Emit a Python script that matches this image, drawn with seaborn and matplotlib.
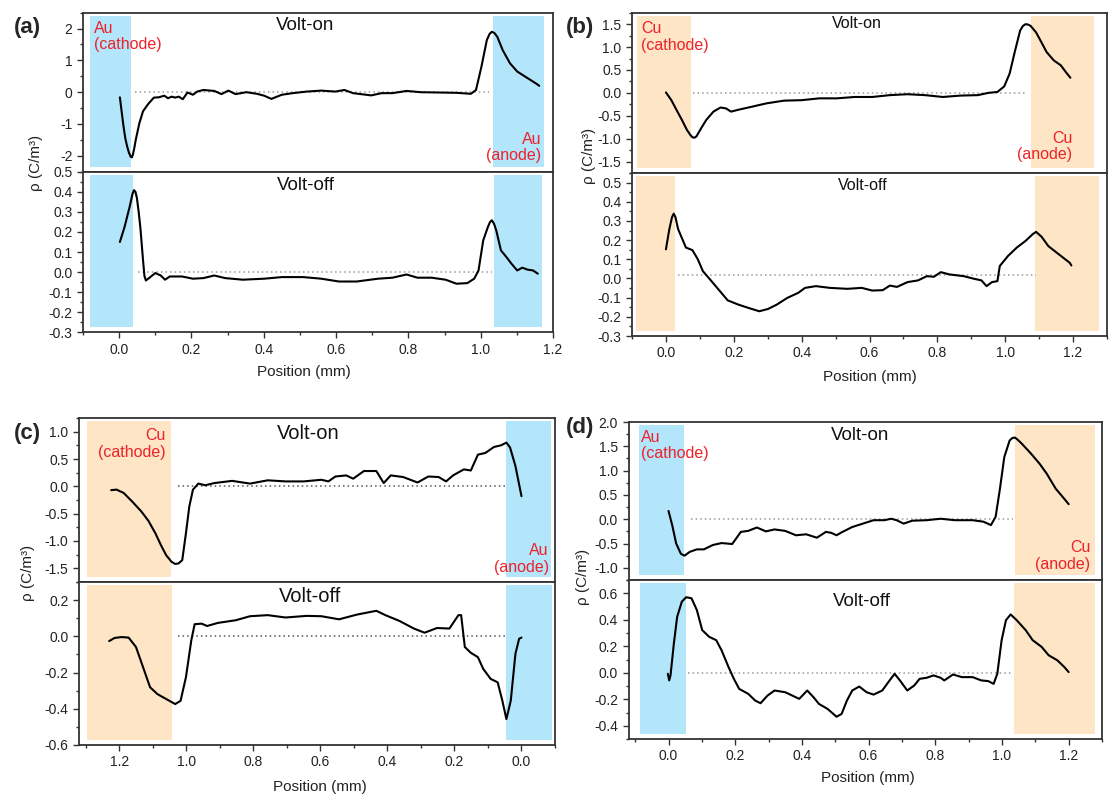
import numpy as np
import matplotlib.pyplot as plt
from matplotlib.ticker import AutoMinorLocator, FormatStrFormatter, MultipleLocator
import seaborn as sns
import pandas as pd

sns.set_style("ticks")
plt.rcParams['font.family'] = ['Liberation Sans', 'DejaVu Sans']
plt.rcParams['axes.unicode_minus'] = False

BLUE = '#b3e5fb'
PEACH = '#fde5c5'
RED = '#ee2229'

# ---------------- (a) Au / Au ----------------
a_on_x = [0.002, 0.007, 0.012, 0.017, 0.022, 0.027, 0.032, 0.035, 0.038, 0.042, 0.046, 0.056, 0.066,
          0.081, 0.096, 0.110, 0.125, 0.135,
          0.145, 0.155, 0.165, 0.176, 0.189, 0.204, 0.216, 0.233, 0.263, 0.283, 0.302, 0.322, 0.352,
          0.381, 0.401, 0.421, 0.450, 0.480, 0.519, 0.559, 0.598, 0.623, 0.647, 0.697, 0.726, 0.756,
          0.795, 0.834, 0.884, 0.933, 0.973, 0.987, 1.002, 1.017, 1.025, 1.031, 1.038, 1.046, 1.061,
          1.081, 1.101, 1.130, 1.155, 1.162]
a_on_y = [-0.16, -0.62, -1.07, -1.45, -1.70, -1.90, -2.03, -2.05, -1.96, -1.75, -1.49, -0.97, -0.60,
          -0.36, -0.17, -0.16, -0.11, -0.19,
          -0.14, -0.17, -0.14, -0.22, -0.01, -0.08, 0.02, 0.07, 0.04, -0.06, 0.05, -0.06, 0.00,
          -0.05, -0.11, -0.21, -0.08, -0.03, 0.02, 0.05, 0.02, 0.07, -0.03, -0.10, -0.03, -0.03,
          0.04, 0.00, -0.01, -0.02, -0.05, 0.07, 0.80, 1.64, 1.84, 1.90, 1.86, 1.74, 1.32,
          0.91, 0.65, 0.44, 0.26, 0.20]
a_off_x = [0.002, 0.015, 0.029, 0.037, 0.041, 0.045, 0.049, 0.054, 0.059, 0.066, 0.070, 0.074, 0.086,
           0.100, 0.115, 0.127, 0.140,
           0.174, 0.204, 0.233, 0.263, 0.293, 0.342, 0.401, 0.450, 0.509, 0.559, 0.608, 0.657, 0.716,
           0.756, 0.795, 0.825, 0.864, 0.903, 0.933, 0.963, 0.982, 0.994, 1.007, 1.020, 1.026, 1.031,
           1.037, 1.043, 1.056, 1.071, 1.085, 1.101, 1.115, 1.130, 1.145, 1.158]
a_off_y = [0.150, 0.225, 0.325, 0.390, 0.408, 0.400, 0.370, 0.300, 0.215, 0.060, -0.020, -0.042, -0.025,
           -0.005, -0.017, -0.038, -0.022,
           -0.022, -0.033, -0.030, -0.017, -0.030, -0.038, -0.033, -0.025, -0.025, -0.033, -0.047, -0.047, -0.033,
           -0.028, -0.012, -0.028, -0.028, -0.038, -0.058, -0.055, -0.033, 0.008, 0.158, 0.225, 0.250, 0.258,
           0.240, 0.208, 0.108, 0.075, 0.042, 0.008, 0.022, 0.012, 0.008, -0.008]

# ---------------- (b) Cu / Cu ----------------
b_on_x = [0.000, 0.016, 0.031, 0.047, 0.062, 0.072, 0.078, 0.084, 0.090, 0.104, 0.119, 0.140, 0.161,
          0.177, 0.192,
          0.213, 0.255, 0.296, 0.348, 0.400, 0.452, 0.504, 0.556, 0.608, 0.660, 0.712, 0.764, 0.816,
          0.868, 0.919, 0.951, 0.977, 0.997, 1.013, 1.029, 1.044, 1.052, 1.060, 1.068, 1.075, 1.091,
          1.107, 1.122, 1.143, 1.164, 1.179, 1.192]
b_on_y = [0.01, -0.16, -0.37, -0.59, -0.81, -0.92, -0.97, -0.98, -0.95, -0.77, -0.59, -0.41, -0.32,
          -0.34, -0.41,
          -0.37, -0.30, -0.23, -0.17, -0.16, -0.12, -0.12, -0.09, -0.09, -0.05, -0.03, -0.05, -0.09,
          -0.06, -0.05, 0.00, 0.02, 0.14, 0.42, 0.92, 1.36, 1.46, 1.50, 1.49, 1.46, 1.32,
          1.10, 0.89, 0.71, 0.60, 0.45, 0.33]
b_off_x = [0.000, 0.010, 0.018, 0.023, 0.028, 0.036, 0.059, 0.078, 0.094, 0.109, 0.130, 0.151, 0.182,
           0.213, 0.244,
           0.275, 0.301, 0.327, 0.358, 0.390, 0.410, 0.442, 0.483, 0.535, 0.577, 0.608, 0.639, 0.660,
           0.681, 0.712, 0.743, 0.769, 0.790, 0.810, 0.836, 0.878, 0.909, 0.930, 0.945, 0.961, 0.977,
           0.984, 1.008, 1.034, 1.060, 1.081, 1.091, 1.107, 1.127, 1.158, 1.190, 1.195]
b_off_y = [0.152, 0.257, 0.320, 0.338, 0.320, 0.257, 0.161, 0.148, 0.100, 0.038, -0.005, -0.049, -0.114,
           -0.136, -0.154,
           -0.171, -0.159, -0.136, -0.101, -0.075, -0.049, -0.040, -0.049, -0.054, -0.049, -0.063, -0.061, -0.037,
           -0.044, -0.019, -0.010, 0.012, 0.009, 0.033, 0.021, 0.012, -0.002, -0.010, -0.040, -0.019, -0.014,
           0.065, 0.117, 0.161, 0.196, 0.231, 0.243, 0.218, 0.169, 0.126, 0.082, 0.068]

# ---------------- (c) Cu / Au (reversed axis) ----------------
c_on_x = [1.224, 1.208, 1.187, 1.161, 1.134, 1.113, 1.092, 1.076, 1.060, 1.044, 1.033, 1.023, 1.012,
          1.001, 0.991, 0.980, 0.964, 0.943, 0.916, 0.863, 0.810, 0.757, 0.704, 0.650, 0.597, 0.576, 0.555,
          0.523, 0.502, 0.470, 0.433, 0.411, 0.390, 0.353, 0.310, 0.278, 0.247, 0.225, 0.204, 0.172,
          0.151, 0.130, 0.108, 0.082, 0.061, 0.045, 0.034, 0.018, 0.000]
c_on_y = [-0.07, -0.06, -0.12, -0.28, -0.46, -0.63, -0.86, -1.07, -1.26, -1.38, -1.42, -1.41, -1.35,
          -0.86, -0.37, -0.06, 0.05, 0.02, 0.06, 0.10, 0.05, 0.11, 0.09, 0.09, 0.12, 0.09, 0.18,
          0.20, 0.14, 0.28, 0.28, 0.06, 0.20, 0.17, 0.07, 0.18, 0.17, 0.09, 0.20, 0.31,
          0.29, 0.58, 0.61, 0.72, 0.75, 0.80, 0.71, 0.37, -0.18]
c_off_x = [1.230, 1.214, 1.193, 1.172, 1.150, 1.129, 1.108, 1.086, 1.060, 1.033, 1.017, 1.001, 0.985,
           0.975, 0.954, 0.938, 0.906, 0.852, 0.810, 0.757, 0.704, 0.640, 0.597, 0.544, 0.491, 0.433,
           0.406, 0.364, 0.321, 0.289, 0.252, 0.215, 0.188, 0.180, 0.169, 0.151, 0.130, 0.114, 0.092,
           0.071, 0.057, 0.045, 0.032, 0.018, 0.007, 0.000]
c_off_y = [-0.026, -0.009, -0.004, -0.007, -0.059, -0.170, -0.281, -0.319, -0.346, -0.374, -0.356, -0.226, -0.022,
           0.067, 0.070, 0.057, 0.074, 0.089, 0.111, 0.117, 0.104, 0.113, 0.111, 0.094, 0.120, 0.141,
           0.117, 0.085, 0.043, 0.020, 0.046, 0.043, 0.117, 0.117, -0.059, -0.091, -0.115, -0.180, -0.235,
           -0.254, -0.356, -0.457, -0.356, -0.096, -0.013, -0.007]

# ---------------- (d) Au / Cu ----------------
d_on_x = [0.000, 0.011, 0.023, 0.037, 0.048, 0.064, 0.085, 0.106, 0.133, 0.159, 0.191, 0.217, 0.239,
          0.265, 0.292, 0.318, 0.350, 0.382, 0.413, 0.445, 0.472, 0.488, 0.504, 0.519, 0.551, 0.583,
          0.615, 0.647, 0.668, 0.684, 0.705, 0.731, 0.774, 0.816, 0.859, 0.912, 0.944, 0.967, 0.981,
          0.994, 1.007, 1.023, 1.031, 1.039, 1.048, 1.060, 1.087, 1.113, 1.134, 1.161, 1.182, 1.200]
d_on_y = [0.17, -0.12, -0.50, -0.71, -0.75, -0.67, -0.62, -0.62, -0.53, -0.49, -0.51, -0.26, -0.24,
          -0.17, -0.25, -0.21, -0.24, -0.33, -0.31, -0.38, -0.26, -0.28, -0.33, -0.27, -0.16, -0.09,
          -0.02, -0.02, 0.01, -0.02, -0.09, -0.03, -0.02, 0.01, -0.02, -0.02, -0.05, -0.12, 0.05,
          0.63, 1.28, 1.62, 1.67, 1.68, 1.63, 1.55, 1.35, 1.14, 0.94, 0.63, 0.46, 0.31]
d_off_x = [-0.002, 0.002, 0.006, 0.016, 0.026, 0.040, 0.053, 0.069, 0.085, 0.101, 0.122, 0.143, 0.159,
           0.180, 0.196, 0.212, 0.239, 0.260, 0.276, 0.297, 0.318, 0.350, 0.371, 0.392, 0.416, 0.435,
           0.451, 0.477, 0.504, 0.519, 0.535, 0.551, 0.572, 0.594, 0.615, 0.641, 0.663, 0.678, 0.694,
           0.716, 0.737, 0.753, 0.774, 0.795, 0.816, 0.827, 0.853, 0.880, 0.912, 0.938, 0.959, 0.975,
           0.986, 0.999, 1.012, 1.026, 1.044, 1.071, 1.092, 1.119, 1.140, 1.166, 1.187, 1.200]
d_off_y = [-0.008, -0.058, -0.020, 0.220, 0.423, 0.537, 0.570, 0.562, 0.473, 0.322, 0.271, 0.246, 0.170,
           0.043, -0.046, -0.122, -0.159, -0.210, -0.230, -0.172, -0.134, -0.147, -0.172, -0.197, -0.134, -0.185,
           -0.235, -0.273, -0.332, -0.311, -0.210, -0.134, -0.104, -0.147, -0.165, -0.134, -0.058, -0.008, -0.058,
           -0.134, -0.096, -0.046, -0.038, -0.020, -0.038, -0.058, -0.013, -0.033, -0.033, -0.058, -0.063, -0.084,
           -0.008, 0.246, 0.397, 0.440, 0.397, 0.322, 0.246, 0.195, 0.132, 0.094, 0.043, 0.005]

# electrode shading (x ranges) and dotted reference lines (xmin, xmax, y)
a_spans_on = [(-0.082, 0.034, BLUE), (1.033, 1.174, BLUE)]
a_spans_off = [(-0.082, 0.039, BLUE), (1.036, 1.170, BLUE)]
b_spans_on = [(-0.085, 0.073, PEACH), (1.075, 1.262, PEACH)]
b_spans_off = [(-0.088, 0.026, PEACH), (1.088, 1.276, PEACH)]
c_spans_on = [(1.046, 1.296, PEACH), (-0.088, 0.045, BLUE)]
c_spans_off = [(1.044, 1.296, PEACH), (-0.091, 0.045, BLUE)]
d_spans_on = [(-0.088, 0.047, BLUE), (1.039, 1.280, PEACH)]
d_spans_off = [(-0.085, 0.051, BLUE), (1.036, 1.280, PEACH)]

a_ref = [(0.044, 1.024, 0.0), (0.051, 1.030, 0.0)]
b_ref = [(0.080, 1.063, 0.0), (0.036, 1.090, 0.017)]
c_ref = [(1.026, 0.050, 0.0), (1.026, 0.050, 0.0)]
d_ref = [(0.067, 1.034, 0.0), (0.058, 1.034, 0.0)]

W, H = 1109, 799
fig = plt.figure(figsize=(W / 100, H / 100), dpi=100)


def px_axes(left, right, top, bottom):
    return fig.add_axes([left / W, 1 - bottom / H, (right - left) / W, (bottom - top) / H])


def style_ax(ax, ylim, ystep, yfmt, xlim, xstep, show_x):
    ax.set_xlim(*xlim)
    ax.set_ylim(*ylim)
    ax.yaxis.set_major_locator(MultipleLocator(ystep))
    ax.yaxis.set_minor_locator(AutoMinorLocator(2))
    ax.yaxis.set_major_formatter(FormatStrFormatter(yfmt))
    ax.xaxis.set_major_locator(MultipleLocator(xstep))
    ax.xaxis.set_minor_locator(AutoMinorLocator(2))
    ax.xaxis.set_major_formatter(FormatStrFormatter('%.1f'))
    ax.tick_params(which='both', direction='out', width=1.0, colors='#333333', labelsize=10,
                   labelcolor='#222222', right=False, top=False)
    ax.tick_params(which='major', length=4)
    ax.tick_params(which='minor', length=2.5)
    if not show_x:
        ax.tick_params(axis='x', which='both', bottom=False, labelbottom=False)
    for s in ax.spines.values():
        s.set_visible(True)
        s.set_color('#333333')
        s.set_linewidth(1.3)
    ax.set_xlabel('')
    ax.set_ylabel('')


def draw(ax, xs, ys, spans, ref, ref_color):
    for x0, x1, col in spans:
        ax.axvspan(x0, x1, ymin=0.03, ymax=0.98, color=col, lw=0, zorder=0)
    ax.hlines(ref[2], ref[0], ref[1], colors=ref_color, linestyles=(0, (1, 2)), lw=1.1, zorder=1)
    df = pd.DataFrame({'x': xs, 'y': ys})
    sns.lineplot(data=df, x='x', y='y', ax=ax, color='black', lw=1.5, estimator=None, sort=False,
                 zorder=3, solid_joinstyle='round', solid_capstyle='round')


panels = [
    dict(top=(83, 553, 12.7, 171.7), bot=(83, 553, 171.7, 332.3), xlim=(-0.1, 1.2),
         on=(a_on_x, a_on_y), off=(a_off_x, a_off_y), spans=(a_spans_on, a_spans_off), ref=a_ref,
         ylim_on=(-2.5, 2.5), ystep_on=1, fmt_on='%d', ylim_off=(-0.3, 0.5), ystep_off=0.1,
         label='(a)', label_pos=(14, 28), ylab=(36, 163), xlab=(304, 372), refc='#9a9a9a',
         volt=(0.473, 0.918, 0.475, 0.915, 13.5), cath=('Au\n(cathode)', 0.024, 0.95, 'left'),
         anode=('Au\n(anode)', 0.975, 0.052)),
    dict(top=(632, 1107, 12.7, 173), bot=(632, 1107, 173, 336), xlim=(-0.1, 1.3),
         on=(b_on_x, b_on_y), off=(b_off_x, b_off_y), spans=(b_spans_on, b_spans_off), ref=b_ref,
         ylim_on=(-1.75, 1.75), ystep_on=0.5, fmt_on='%.1f', ylim_off=(-0.3, 0.55), ystep_off=0.1,
         label='(b)', label_pos=(566, 28), ylab=(589, 156), xlab=(870, 377), refc='#9a9a9a',
         volt=(0.474, 0.935, 0.485, 0.925, 11.5), cath=('Cu\n(cathode)', 0.020, 0.95, 'left'),
         anode=('Cu\n(anode)', 0.927, 0.066)),
    dict(top=(79, 555, 418, 582), bot=(79, 555, 582, 745), xlim=(1.32, -0.1),
         on=(c_on_x, c_on_y), off=(c_off_x, c_off_y), spans=(c_spans_on, c_spans_off), ref=c_ref,
         ylim_on=(-1.75, 1.25), ystep_on=0.5, fmt_on='%.1f', ylim_off=(-0.6, 0.3), ystep_off=0.2,
         label='(c)', label_pos=(14, 433), ylab=(28, 573), xlab=(320, 787), refc='#555555',
         volt=(0.482, 0.905, 0.485, 0.91, 14.5), cath=('Cu\n(cathode)', 0.182, 0.939, 'right'),
         anode=('Au\n(anode)', 0.987, 0.041)),
    dict(top=(628.5, 1102, 422, 580), bot=(628.5, 1102, 580, 739), xlim=(-0.12, 1.3),
         on=(d_on_x, d_on_y), off=(d_off_x, d_off_y), spans=(d_spans_on, d_spans_off), ref=d_ref,
         ylim_on=(-1.25, 2.0), ystep_on=0.5, fmt_on='%.1f', ylim_off=(-0.5, 0.7), ystep_off=0.2,
         label='(d)', label_pos=(566, 427), ylab=(583, 577), xlab=(868, 778), refc='#9a9a9a',
         volt=(0.490, 0.913, 0.494, 0.862, 13.5), cath=('Au\n(cathode)', 0.026, 0.952, 'left'),
         anode=('Cu\n(anode)', 0.975, 0.053)),
]

for p in panels:
    ax_on = px_axes(*p['top'])
    ax_off = px_axes(*p['bot'])
    draw(ax_on, *p['on'], p['spans'][0], p['ref'][0], p['refc'])
    draw(ax_off, *p['off'], p['spans'][1], p['ref'][1], p['refc'])
    style_ax(ax_on, p['ylim_on'], p['ystep_on'], p['fmt_on'], p['xlim'], 0.2, False)
    style_ax(ax_off, p['ylim_off'], p['ystep_off'], '%.1f', p['xlim'], 0.2, True)
    if p['label'] == '(a)':
        ax_on.set_yticks([-2, -1, 0, 1, 2])
    vx1, vy1, vx2, vy2, vsize = p['volt']
    ax_on.text(vx1, vy1, 'Volt-on', transform=ax_on.transAxes, ha='center', va='center',
               fontsize=vsize, color='#111111')
    ax_off.text(vx2, vy2, 'Volt-off', transform=ax_off.transAxes, ha='center', va='center',
                fontsize=vsize, color='#111111')
    txt, cx, cy, al = p['cath']
    ax_on.text(cx, cy, txt, transform=ax_on.transAxes, ha=al, va='top', multialignment=al,
               fontsize=11.5, color=RED, linespacing=1.15)
    txt, ax_x, ax_y = p['anode']
    ax_on.text(ax_x, ax_y, txt, transform=ax_on.transAxes, ha='right', va='bottom', multialignment='right',
               fontsize=11.5, color=RED, linespacing=1.15)
    lx, ly = p['label_pos']
    fig.text(lx / W, 1 - ly / H, p['label'], ha='left', va='center', fontsize=16, fontweight='bold')
    yx, yy = p['ylab']
    fig.text(yx / W, 1 - yy / H, 'ρ (C/m³)', rotation=90, ha='center', va='center', fontsize=11,
             color='#222222')
    xx, xy = p['xlab']
    fig.text(xx / W, 1 - xy / H, 'Position (mm)', ha='center', va='center', fontsize=11, color='#222222')

fig.savefig('out.png', dpi=100)
